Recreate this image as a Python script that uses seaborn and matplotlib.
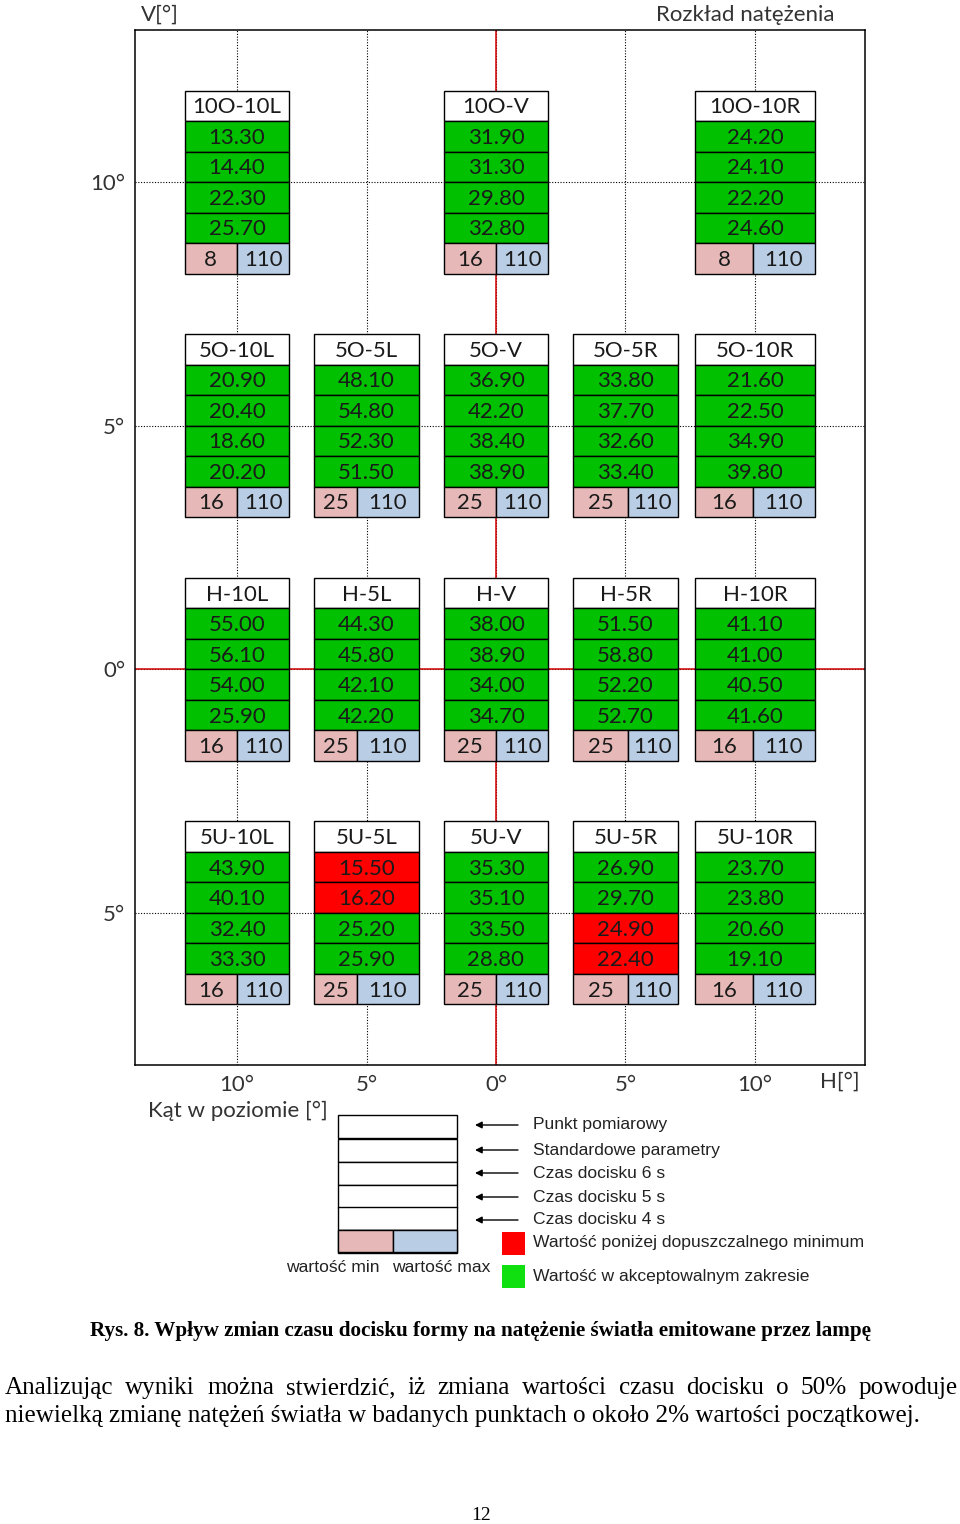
import matplotlib
matplotlib.use("Agg")
import matplotlib.pyplot as plt
from matplotlib.patches import Rectangle
import pandas as pd
import seaborn as sns

# punkty pomiarowe: nazwa, kat poziomy (H), kat pionowy (V)
points = ["10O-10L", "10O-V", "10O-10R",
          "5O-10L", "5O-5L", "5O-V", "5O-5R", "5O-10R",
          "H-10L", "H-5L", "H-V", "H-5R", "H-10R",
          "5U-10L", "5U-5L", "5U-V", "5U-5R", "5U-10R"]
h_angle = [-10, 0, 10,
           -10, -5, 0, 5, 10,
           -10, -5, 0, 5, 10,
           -10, -5, 0, 5, 10]
v_angle = [10, 10, 10,
           5, 5, 5, 5, 5,
           0, 0, 0, 0, 0,
           -5, -5, -5, -5, -5]

# natezenie swiatla [cd]
std_params = [13.30, 31.90, 24.20, 20.90, 48.10, 36.90, 33.80, 21.60, 55.00,
              44.30, 38.00, 51.50, 41.10, 43.90, 15.50, 35.30, 26.90, 23.70]
press_6s = [14.40, 31.30, 24.10, 20.40, 54.80, 42.20, 37.70, 22.50, 56.10,
            45.80, 38.90, 58.80, 41.00, 40.10, 16.20, 35.10, 29.70, 23.80]
press_5s = [22.30, 29.80, 22.20, 18.60, 52.30, 38.40, 32.60, 34.90, 54.00,
            42.10, 34.00, 52.20, 40.50, 32.40, 25.20, 33.50, 24.90, 20.60]
press_4s = [25.70, 32.80, 24.60, 20.20, 51.50, 38.90, 33.40, 39.80, 25.90,
            42.20, 34.70, 52.70, 41.60, 33.30, 25.90, 28.80, 22.40, 19.10]
min_val = [8, 16, 8, 16, 25, 25, 25, 16, 16, 25, 25, 25, 16, 16, 25, 25, 25, 16]
max_val = [110] * 18

x_ticks = [-10, -5, 0, 5, 10]
x_labels = ["10°", "5°", "0°", "5°", "10°"]
y_ticks = [10, 5, 0, -5]
y_labels = ["10°", "5°", "0°", "5°"]

df = pd.DataFrame({"point": points, "h": h_angle, "v": v_angle,
                   "s": std_params, "p6": press_6s, "p5": press_5s,
                   "p4": press_4s, "mn": min_val, "mx": max_val})

sns.set_theme(style="white")
plt.rcParams["font.family"] = ["Lato", "DejaVu Sans"]

W, H = 960, 1524
fig = plt.figure(figsize=(W / 100, H / 100), dpi=100)


def fx(px):
    return px / W


def fy(py):
    return 1 - py / H


ax = fig.add_axes([fx(135), fy(1065), 730 / W, 1035 / H])
ax.set_xlim(-13.94, 14.25)
ax.set_ylim(-8.12, 13.12)
for s in ax.spines.values():
    s.set_color("black")
    s.set_linewidth(1.1)

ax.set_xticks(x_ticks, x_labels)
ax.set_yticks(y_ticks, y_labels)
ax.tick_params(length=0, labelsize=16, labelcolor="#333333", pad=7)
ax.grid(True, linestyle=(0, (1, 1.5)), color="black", linewidth=0.8)
ax.set_axisbelow(True)
ax.axvline(0, color="#d00000", linewidth=1.1, zorder=1.5)
ax.axhline(0, color="#d00000", linewidth=1.1, zorder=1.5)

# geometria tabelek (szerokosc w stopniach, podzial dolnego wiersza)
col_width = {-10: 4.05, -5: 4.05, 0: 4.05, 5: 4.02, 10: 4.6}
col_split = {-10: 0.50, -5: 0.41, 0: 0.50, 5: 0.52, 10: 0.48}
rh = 0.626
GREEN, RED, PINK, BLUE = "#00c000", "#ff0000", "#e6b9b8", "#b9cde5"
txt_kw = dict(ha="center", va="center", fontsize=16, color="#1a1a1a", zorder=5)

for _, r in df.iterrows():
    w = col_width[r.h]
    left = r.h - w / 2
    top = r.v + 3 * rh
    # naglowek
    ax.bar(left, rh, width=w, bottom=top - rh, align="edge", color="white",
           edgecolor="black", linewidth=1.0, zorder=3)
    ax.text(r.h, top - rh / 2 - 0.03, r.point, **txt_kw)
    for i, val in enumerate([r.s, r.p6, r.p5, r.p4]):
        b = top - (i + 2) * rh
        c = RED if val < r.mn else GREEN
        ax.bar(left, rh, width=w, bottom=b, align="edge", color=c,
               edgecolor="black", linewidth=1.0, zorder=3)
        ax.text(r.h, b + rh / 2 - 0.03, f"{val:.2f}", **txt_kw)
    b = top - 6 * rh
    ws = w * col_split[r.h]
    ax.bar(left, rh, width=ws, bottom=b, align="edge", color=PINK,
           edgecolor="black", linewidth=1.0, zorder=3)
    ax.bar(left + ws, rh, width=w - ws, bottom=b, align="edge", color=BLUE,
           edgecolor="black", linewidth=1.0, zorder=3)
    ax.text(left + ws / 2, b + rh / 2 - 0.03, f"{r.mn:d}", **txt_kw)
    ax.text(left + ws + (w - ws) / 2, b + rh / 2 - 0.03, f"{r.mx:d}", **txt_kw)

lab_kw = dict(fontsize=16, color="#333333", va="center")
fig.text(fx(160), fy(15), "V[°]", ha="center", **lab_kw)
fig.text(fx(745), fy(15), "Rozkład natężenia", ha="center", **lab_kw)
fig.text(fx(840), fy(1082), "H[°]", ha="center", **lab_kw)
fig.text(fx(148), fy(1111), "Kąt w poziomie [°]", ha="left", **lab_kw)

# legenda
lg = fig.add_axes([0, 0, 1, 1])
lg.set_xlim(0, W)
lg.set_ylim(H, 0)
lg.axis("off")
lg.patch.set_alpha(0)

rows = [1115, 1139, 1162, 1185, 1207, 1230]
for y0 in rows:
    lg.add_patch(Rectangle((338, y0), 119, 23, facecolor="white",
                           edgecolor="black", linewidth=1.0))
lg.add_patch(Rectangle((338, 1230), 55, 22, facecolor=PINK,
                       edgecolor="black", linewidth=1.0))
lg.add_patch(Rectangle((393, 1230), 64, 22, facecolor=BLUE,
                       edgecolor="black", linewidth=1.0))

leg_kw = dict(fontsize=12.6, color="#222222", va="center",
              family=["Liberation Sans", "DejaVu Sans"])
lg.text(333, 1267, "wartość min", ha="center", **leg_kw)
lg.text(441, 1267, "wartość max", ha="center", **leg_kw)

leg_texts = ["Punkt pomiarowy", "Standardowe parametry", "Czas docisku 6 s",
             "Czas docisku 5 s", "Czas docisku 4 s"]
for y, t in zip([1125, 1150, 1173, 1197, 1220], leg_texts):
    lg.annotate("", xy=(475, y), xytext=(518, y),
                arrowprops=dict(arrowstyle="-|>", color="black", lw=1.0,
                                mutation_scale=10, shrinkA=0, shrinkB=0))
    lg.text(533, y, t, ha="left", **leg_kw)

lg.add_patch(Rectangle((502, 1232), 23, 23, facecolor=RED, edgecolor="none"))
lg.add_patch(Rectangle((502, 1265), 23, 23, facecolor="#10e010", edgecolor="none"))
lg.text(533, 1243, "Wartość poniżej dopuszczalnego minimum", ha="left", **leg_kw)
lg.text(533, 1276, "Wartość w akceptowalnym zakresie", ha="left", **leg_kw)

# podpis i tekst
serif = ["Liberation Serif", "DejaVu Serif"]
lg.text(481, 1331, "Rys. 8. Wpływ zmian czasu docisku formy na natężenie "
        "światła emitowane przez lampę", ha="center", va="center",
        fontsize=15.2, fontweight="bold", family=serif, color="black")

line1 = ("Analizując wyniki można stwierdzić, iż zmiana wartości czasu "
         "docisku o 50% powoduje")
line2 = ("niewielką zmianę natężeń światła w badanych punktach o około 2% "
         "wartości początkowej.")
p_kw = dict(fontsize=18.1, family=serif, color="black", va="center", ha="left")
words = [lg.text(0, 1388, wd, **p_kw) for wd in line1.split()]
lg.text(5, 1416, line2, **p_kw)
lg.text(481, 1516, "12", ha="center", va="center", fontsize=14,
        family=serif, color="black")

fig.canvas.draw()
rend = fig.canvas.get_renderer()
widths = [t.get_window_extent(rend).width for t in words]
gap = (958 - 5 - sum(widths)) / (len(words) - 1)
x = 5
for t, wd in zip(words, widths):
    t.set_x(x)
    x += wd + gap

fig.savefig("out.png", dpi=100)
